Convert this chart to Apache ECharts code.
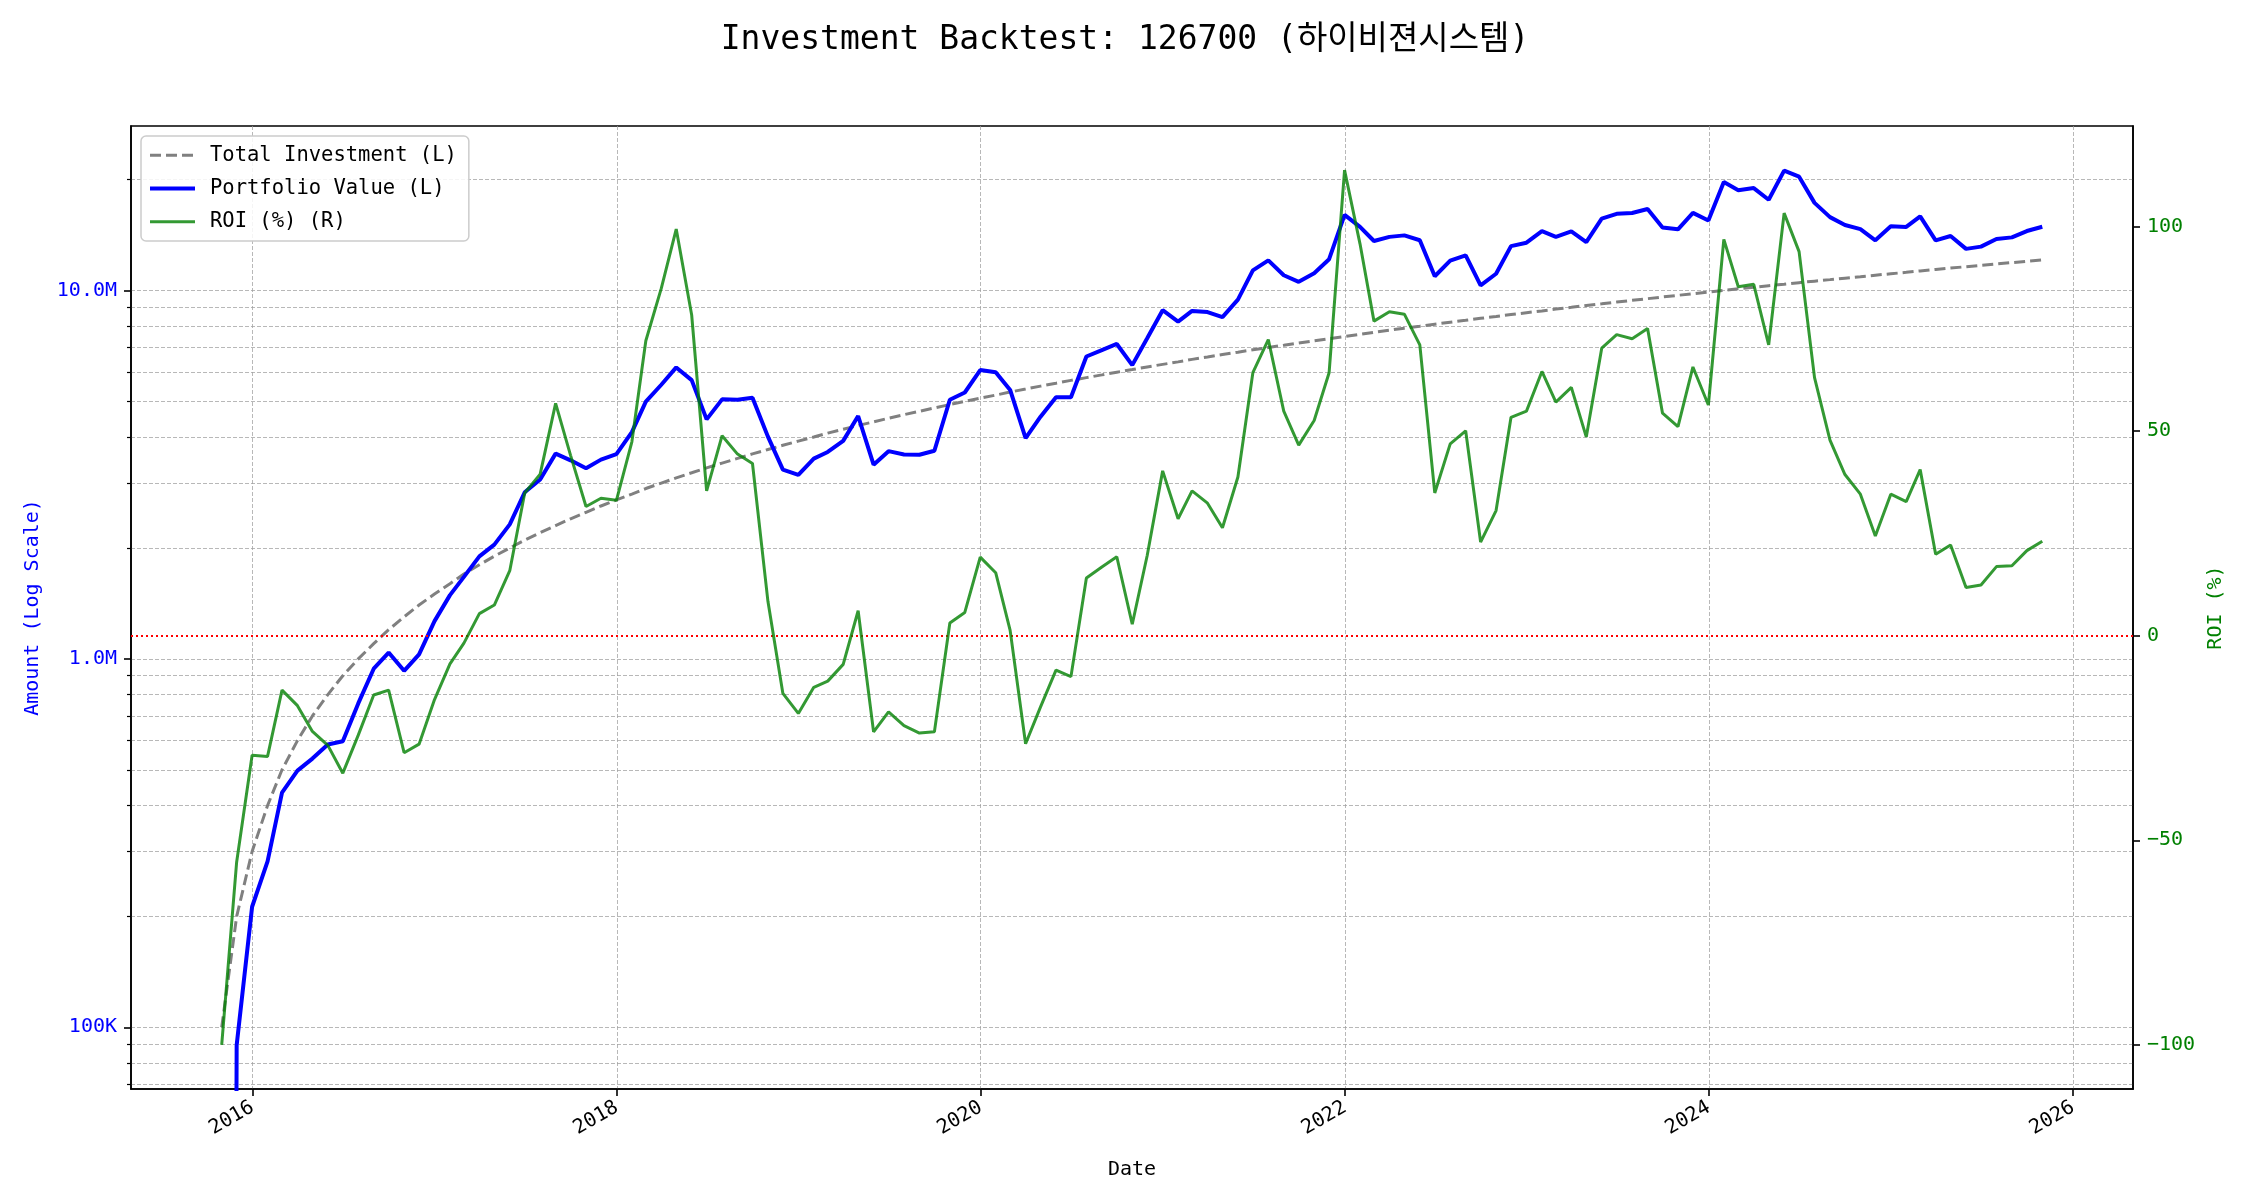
<!DOCTYPE html>
<html>
<head>
<meta charset="utf-8">
<script src="https://cdn.jsdelivr.net/npm/echarts@6/dist/echarts.min.js"></script>
<style>
html,body{margin:0;padding:0;background:#fff;}
#chart{width:2250px;height:1200px;}
</style>
</head>
<body>
<div id="chart"></div>
<script>
const dates = [
'2015-10-31','2015-11-30','2015-12-31',
'2016-01-31','2016-02-29','2016-03-31','2016-04-30','2016-05-31','2016-06-30','2016-07-31','2016-08-31','2016-09-30','2016-10-31','2016-11-30','2016-12-31',
'2017-01-31','2017-02-28','2017-03-31','2017-04-30','2017-05-31','2017-06-30','2017-07-31','2017-08-31','2017-09-30','2017-10-31','2017-11-30','2017-12-31',
'2018-01-31','2018-02-28','2018-03-31','2018-04-30','2018-05-31','2018-06-30','2018-07-31','2018-08-31','2018-09-30','2018-10-31','2018-11-30','2018-12-31',
'2019-01-31','2019-02-28','2019-03-31','2019-04-30','2019-05-31','2019-06-30','2019-07-31','2019-08-31','2019-09-30','2019-10-31','2019-11-30','2019-12-31',
'2020-01-31','2020-02-29','2020-03-31','2020-04-30','2020-05-31','2020-06-30','2020-07-31','2020-08-31','2020-09-30','2020-10-31','2020-11-30','2020-12-31',
'2021-01-31','2021-02-28','2021-03-31','2021-04-30','2021-05-31','2021-06-30','2021-07-31','2021-08-31','2021-09-30','2021-10-31','2021-11-30','2021-12-31',
'2022-01-31','2022-02-28','2022-03-31','2022-04-30','2022-05-31','2022-06-30','2022-07-31','2022-08-31','2022-09-30','2022-10-31','2022-11-30','2022-12-31',
'2023-01-31','2023-02-28','2023-03-31','2023-04-30','2023-05-31','2023-06-30','2023-07-31','2023-08-31','2023-09-30','2023-10-31','2023-11-30','2023-12-31',
'2024-01-31','2024-02-29','2024-03-31','2024-04-30','2024-05-31','2024-06-30','2024-07-31','2024-08-31','2024-09-30','2024-10-31','2024-11-30','2024-12-31',
'2025-01-31','2025-02-28','2025-03-31','2025-04-30','2025-05-31','2025-06-30','2025-07-31','2025-08-31','2025-09-30','2025-10-31'
];

const totalInvestment = [
100000,200000,300000,400000,500000,600000,700000,800000,900000,1000000,
1100000,1200000,1300000,1400000,1500000,1600000,1700000,1800000,1900000,2000000,
2100000,2200000,2300000,2400000,2500000,2600000,2700000,2800000,2900000,3000000,
3100000,3200000,3300000,3400000,3500000,3600000,3700000,3800000,3900000,4000000,
4100000,4200000,4300000,4400000,4500000,4600000,4700000,4800000,4900000,5000000,
5100000,5200000,5300000,5400000,5500000,5600000,5700000,5800000,5900000,6000000,
6100000,6200000,6300000,6400000,6500000,6600000,6700000,6800000,6900000,7000000,
7100000,7200000,7300000,7400000,7500000,7600000,7700000,7800000,7900000,8000000,
8100000,8200000,8300000,8400000,8500000,8600000,8700000,8800000,8900000,9000000,
9100000,9200000,9300000,9400000,9500000,9600000,9700000,9800000,9900000,10000000,
10100000,10200000,10300000,10400000,10500000,10600000,10700000,10800000,10900000,11000000,
11100000,11200000,11300000,11400000,11500000,11600000,11700000,11800000,11900000,12000000,
12100000
];

const portfolioValue = [
0,89400,212400,282000,433500,497400,536200,585600,597600,757000,
940500,1040400,928200,1029000,1266000,1489600,1669400,1897200,2042500,2318000,
2832900,3069000,3606400,3458400,3290000,3473600,3593700,4127200,4990900,5547000,
6181400,5708800,4468200,5062600,5054000,5115600,4010800,3264200,3159000,3496000,
3644900,3906000,4562300,3366000,3663000,3588000,3581400,3672000,5051900,5285000,
6079200,6000800,5368900,3974400,4543000,5129600,5130000,6617800,6891200,7158000,
6270800,7415200,8838900,8230400,8801000,8738400,8468800,9438400,11336700,12068000,
10997900,10555200,11139800,12158200,16035000,14880800,13621300,13977600,14109400,13688000,
10926900,12045800,12458300,10323600,11101000,13192400,13476300,14484800,13981900,14463000,
13522600,15667600,16144800,16224400,16634500,14822400,14656700,16238600,15483600,19690000,
18715300,18961800,17623300,21143200,20359500,17288600,15814600,15055200,14671400,13684000,
14940600,14873600,15887800,13668600,14053000,12968800,13150800,13794200,13934900,14496000,
14895100
];

const roiPct = [
-100,-55.3,-29.2,-29.5,-13.3,-17.1,-23.4,-26.8,-33.6,-24.3,
-14.5,-13.3,-28.6,-26.5,-15.6,-6.9,-1.8,5.4,7.5,15.9,
34.9,39.5,56.8,44.1,31.6,33.6,33.1,47.4,72.1,84.9,
99.4,78.4,35.4,48.9,44.4,42.1,8.4,-14.1,-19.0,-12.6,
-11.1,-7.0,6.1,-23.5,-18.6,-22.0,-23.8,-23.5,3.1,5.7,
19.2,15.4,1.3,-26.4,-17.4,-8.4,-10.0,14.1,16.8,19.3,
2.8,19.6,40.3,28.6,35.4,32.4,26.4,38.8,64.3,72.4,
54.9,46.6,52.6,64.3,113.8,95.8,76.9,79.2,78.6,71.1,
34.9,46.9,50.1,22.9,30.6,53.4,54.9,64.6,57.1,60.7,
48.6,70.3,73.6,72.6,75.1,54.4,51.1,65.7,56.4,96.9,
85.3,85.9,71.1,103.3,93.9,63.1,47.8,39.4,34.6,24.4,
34.6,32.8,40.6,19.9,22.2,11.8,12.4,16.9,17.1,20.8,
23.1
];

const xTickDates = ['2016-01-01','2018-01-01','2020-01-01','2022-01-01','2024-01-01','2026-01-01'];
const xTickLabels = ['2016','2018','2020','2022','2024','2026'];
const leftMajorTicks = [100000, 1000000, 10000000];
const leftMajorLabels = ['100K', '1.0M', '10.0M'];
const leftMinorTicks = [70000,80000,90000,
  200000,300000,400000,500000,600000,700000,800000,900000,
  2000000,3000000,4000000,5000000,6000000,7000000,8000000,9000000,
  20000000];
const roiTicks = [-100, -50, 0, 50, 100];
const roiTickLabels = ['−100', '−50', '0', '50', '100'];

const FONT = "'DejaVu Sans Mono', 'Noto Sans CJK KR', monospace";
const parseT = s => echarts.time.parse(s).getTime();
const xTickValues = xTickDates.map(parseT);
const dateValues = dates.map(parseT);

const pair = arr => dateValues.map((t, i) => [t, arr[i]]);
// like matplotlib's log scale (nonpositive='clip'): a zero value is drawn far below the axis
const pairLog = arr => dateValues.map((t, i) => [t, arr[i] > 0 ? arr[i] : 1e-6]);

const gridLine = { show: true, lineStyle: { color: 'rgba(160,160,160,0.75)', width: 1, type: [4, 2] } };

function nearestIdx(list, v, log) {
  let best = 0, bd = Infinity;
  list.forEach((t, i) => {
    const d = log ? Math.abs(Math.log10(t) - Math.log10(v)) : Math.abs(t - v);
    if (d < bd) { bd = d; best = i; }
  });
  return best;
}

const chart = echarts.init(document.getElementById('chart'), null, { renderer: 'canvas' });
const option = {
  animation: false,
  backgroundColor: '#ffffff',
  title: {
    text: 'Investment Backtest: 126700 (하이비젼시스템)',
    left: 'center', top: 19,
    textStyle: { fontFamily: FONT, fontSize: 33, fontWeight: 'normal', color: '#000' }
  },
  legend: {
    orient: 'vertical', left: 141, top: 136,
    padding: [9, 12, 9, 7],
    itemWidth: 45, itemHeight: 20, itemGap: 12.7,
    backgroundColor: 'rgba(255,255,255,0.85)',
    borderColor: '#cccccc', borderWidth: 1.5, borderRadius: 5,
    itemStyle: { opacity: 0 },
    textStyle: { fontFamily: FONT, fontSize: 20.5, color: '#000', padding: [0, 0, 0, 10] },
    data: [
      { name: 'Total Investment (L)', lineStyle: { width: 3, color: '#808080', type: [11, 5] } },
      { name: 'Portfolio Value (L)', lineStyle: { width: 4, color: '#0000ff' } },
      { name: 'ROI (%) (R)', lineStyle: { width: 3, color: 'rgba(0,128,0,0.8)' } }
    ]
  },
  grid: { left: 131, right: 117, top: 126, bottom: 111, show: true, borderColor: '#000', borderWidth: 1.6, backgroundColor: 'transparent' },
  xAxis: {
    type: 'value',
    min: parseT('2015-05-02'), max: parseT('2026-05-01'),
    name: 'Date', nameLocation: 'middle', nameGap: 71,
    nameTextStyle: { fontFamily: FONT, fontSize: 20, color: '#000' },
    axisLine: { show: true, onZero: false, lineStyle: { color: '#000', width: 1.6 } },
    axisTick: { show: true, customValues: xTickValues, length: 7, lineStyle: { color: '#000', width: 1.6 } },
    axisLabel: {
      customValues: xTickValues, rotate: 30, margin: 17,
      fontFamily: FONT, fontSize: 20, color: '#000',
      formatter: v => xTickLabels[nearestIdx(xTickValues, v, false)]
    },
    splitLine: gridLine
  },
  yAxis: [
    {
      type: 'log', logBase: 10, min: 68000, max: 27950000, position: 'left',
      name: 'Amount (Log Scale)', nameLocation: 'middle', nameGap: 88,
      nameTextStyle: { fontFamily: FONT, fontSize: 20, color: 'blue' },
      axisLine: { show: true, lineStyle: { color: '#000', width: 1.6 } },
      axisTick: { show: true, customValues: leftMajorTicks, length: 7, lineStyle: { color: '#000', width: 1.6 } },
      axisLabel: {
        customValues: leftMajorTicks, margin: 14,
        fontFamily: FONT, fontSize: 20, color: 'blue',
        formatter: v => leftMajorLabels[nearestIdx(leftMajorTicks, v, true)]
      },
      splitLine: gridLine
    },
    {
      type: 'value', min: -110.8, max: 124.6, position: 'right',
      name: 'ROI (%)', nameLocation: 'middle', nameGap: 70,
      nameTextStyle: { fontFamily: FONT, fontSize: 20, color: 'green' },
      axisLine: { show: true, lineStyle: { color: '#000', width: 1.6 } },
      axisTick: { show: true, customValues: roiTicks, length: 7, lineStyle: { color: '#000', width: 1.6 } },
      axisLabel: {
        customValues: roiTicks, margin: 14,
        fontFamily: FONT, fontSize: 20, color: 'green',
        formatter: v => roiTickLabels[nearestIdx(roiTicks, v, false)]
      },
      splitLine: { show: false }
    },
    {
      type: 'log', logBase: 10, min: 68000, max: 27950000, position: 'left',
      axisLine: { show: false },
      axisTick: { show: true, customValues: leftMinorTicks, length: 4, lineStyle: { color: '#000', width: 1.2 } },
      axisLabel: { show: false },
      splitLine: gridLine
    }
  ],
  series: [
    {
      name: 'Total Investment (L)', type: 'line', yAxisIndex: 0,
      data: pairLog(totalInvestment), symbol: 'none', silent: true,
      lineStyle: { color: '#808080', width: 3, type: [11, 5] },
      itemStyle: { color: '#808080' }, z: 3
    },
    {
      name: 'Portfolio Value (L)', type: 'line', yAxisIndex: 0,
      data: pairLog(portfolioValue), symbol: 'none', silent: true,
      lineStyle: { color: '#0000ff', width: 4 },
      itemStyle: { color: '#0000ff' }, z: 4
    },
    {
      name: 'ROI (%) (R)', type: 'line', yAxisIndex: 1,
      data: pair(roiPct), symbol: 'none', silent: true,
      lineStyle: { color: 'rgba(0,128,0,0.8)', width: 3 },
      itemStyle: { color: 'rgba(0,128,0,0.8)' }, z: 5,
      markLine: {
        silent: true, symbol: ['none', 'none'], label: { show: false },
        lineStyle: { color: '#ff0000', type: [2, 3], width: 1.8 },
        data: [{ yAxis: 0 }]
      }
    }
  ]
};
chart.setOption(option);
</script>
</body>
</html>
